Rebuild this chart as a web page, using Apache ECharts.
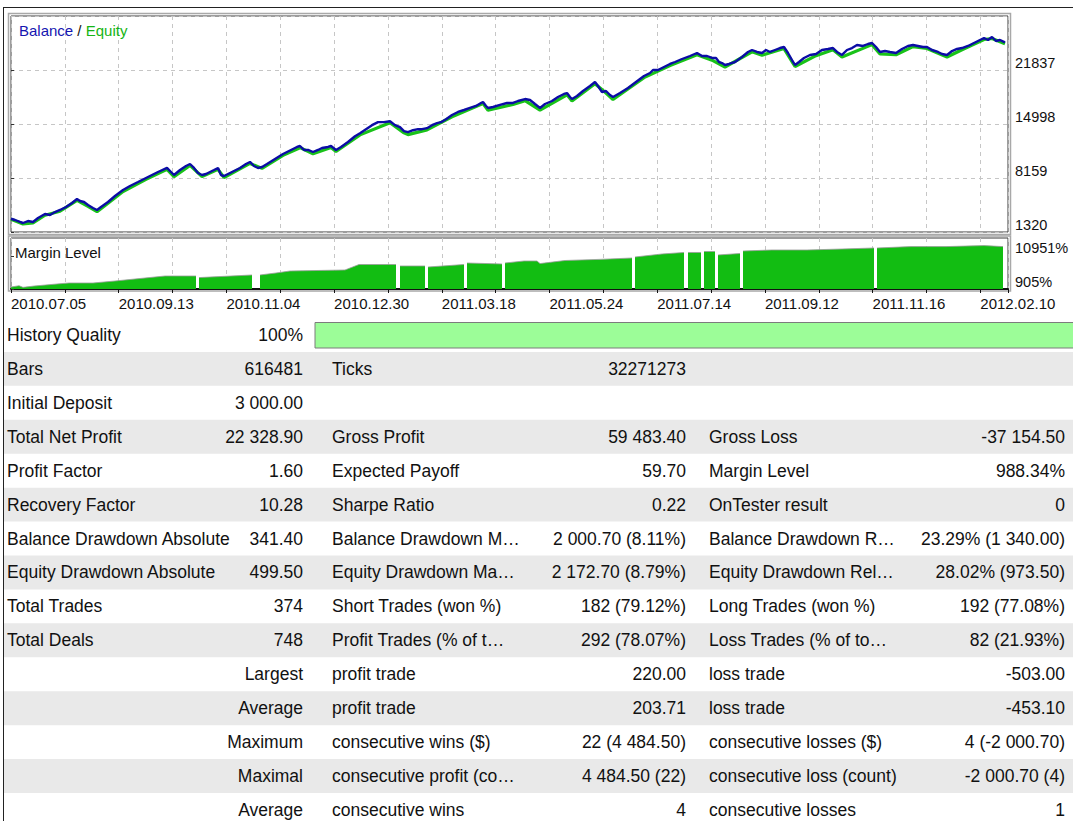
<!DOCTYPE html>
<html>
<head>
<meta charset="utf-8">
<script src="https://cdn.jsdelivr.net/npm/echarts@6/dist/echarts.min.js"></script>
<style>
html, body { margin: 0; padding: 0; background: #fff; }
#main { width: 1073px; height: 821px; }
</style>
</head>
<body>
<div id="main"></div>
<script>
// x runs in tester steps across the chart, 0..997
var dateLabels = ['2010.07.05', '2010.09.13', '2010.11.04', '2010.12.30', '2011.03.18',
    '2011.05.24', '2011.07.14', '2011.09.12', '2011.11.16', '2012.02.10'];

var balancePts = [
    [0, 3000], [4, 2840], [9, 2590], [12, 2460], [17, 2710], [22, 2590], [27, 3090], [34, 3600],
    [39, 3470], [44, 3850], [49, 4110], [55, 4490], [61, 4990], [66, 5500], [69, 5250], [73, 5120],
    [77, 4740], [82, 4360], [86, 4110], [90, 4490], [97, 5120], [104, 5880], [112, 6640], [119, 7150],
    [127, 7650], [135, 8160], [141, 8540], [147, 8920], [156, 9430], [160, 8920], [163, 8540], [169, 9170],
    [175, 9680], [179, 9930], [183, 9430], [187, 8790], [191, 8540], [195, 8670], [199, 8920], [203, 9170],
    [207, 9430], [210, 8540], [213, 8410], [217, 8670], [223, 9050], [229, 9430], [235, 9930], [239, 10190],
    [243, 9680], [247, 9430], [251, 9550], [256, 9930], [264, 10570], [272, 11200], [280, 11710], [286, 12090],
    [289, 12210], [293, 11710], [297, 11710], [302, 11450], [307, 11710], [311, 11960], [317, 12090], [320, 12210],
    [325, 11710], [330, 12090], [337, 12720], [344, 13450], [349, 13830], [355, 14340], [361, 14850], [367, 15230],
    [373, 15230], [379, 15350], [384, 14850], [389, 14590], [393, 14090], [397, 13960], [402, 14210], [407, 14340],
    [411, 14340], [416, 14470], [421, 14850], [426, 15100], [430, 15230], [435, 15610], [441, 16140], [447, 16520],
    [453, 16770], [459, 17030], [465, 17280], [470, 17660], [472, 17790], [475, 17280], [477, 17030], [482, 17150],
    [489, 17410], [496, 17660], [502, 17660], [507, 17910], [514, 18160], [519, 18040], [524, 17530], [529, 17030],
    [534, 17530], [541, 17910], [547, 18420], [553, 18800], [556, 18920], [559, 18420], [561, 18160], [566, 18540],
    [572, 19180], [579, 19810], [584, 20320], [587, 19810], [591, 19050], [595, 19180], [599, 18670], [602, 18420],
    [609, 18920], [617, 19560], [625, 20320], [633, 21080], [639, 21460], [642, 21840], [647, 21840], [653, 22220],
    [659, 22600], [664, 22850], [671, 23230], [679, 23610], [686, 23990], [691, 23610], [696, 23610], [701, 23360],
    [705, 23360], [708, 22850], [711, 22720], [714, 22470], [718, 22600], [724, 22850], [731, 23480], [737, 24120],
    [741, 24370], [746, 24120], [751, 23990], [755, 24370], [759, 24120], [764, 24370], [769, 24620], [773, 24750],
    [777, 23990], [781, 23100], [784, 22470], [788, 22850], [793, 23360], [799, 23740], [805, 23860], [811, 24370],
    [817, 24500], [822, 24620], [826, 24120], [831, 23740], [836, 24370], [841, 24620], [846, 25000], [852, 24880],
    [857, 25130], [861, 25260], [865, 24750], [869, 24120], [874, 24240], [879, 24120], [885, 23990], [891, 24500],
    [897, 24880], [902, 25000], [907, 24880], [912, 24750], [916, 24750], [921, 24370], [927, 24120], [931, 23860],
    [936, 23740], [941, 24240], [946, 24500], [951, 24620], [957, 24880], [963, 25260], [969, 25640], [973, 25890],
    [977, 25640], [981, 26020], [985, 25510], [989, 25640], [994, 25330]
];

var equityPts = [
    [0, 2930], [12, 2330], [22, 2470], [34, 3450], [49, 3950], [66, 5330], [77, 4580], [86, 3900],
    [97, 4950], [112, 6450], [135, 7980], [156, 9250], [163, 8330], [179, 9750], [191, 8330], [207, 9250],
    [213, 8220], [239, 10000], [251, 9380], [272, 11020], [289, 12000], [302, 11230], [320, 12020], [325, 11520],
    [349, 13620], [379, 15150], [393, 13880], [397, 13650], [416, 14250], [441, 15920], [472, 17580], [477, 16750],
    [502, 17460], [514, 17960], [529, 16750], [556, 18700], [561, 17920], [584, 20100], [595, 18920], [602, 18100],
    [633, 20870], [659, 22400], [686, 23780], [701, 23080], [714, 22200], [741, 24150], [751, 23720], [773, 24550],
    [784, 22280], [805, 23650], [822, 24400], [831, 23480], [861, 25050], [869, 23870], [885, 23770], [902, 24800],
    [916, 24560], [936, 23480], [951, 24400], [973, 25700], [981, 25830], [994, 25150]
];

// margin level, %, null where no position was open
var marginPts = [
    [0, 1500], [8, 1900], [12, 1400], [23, 1800], [46, 2430], [58, 2730], [82, 2730], [104, 3340],
    [134, 4250], [154, 4860], [185, 4860], [186, null], [188, 4380], [241, 5170], [247, null], [249, 5170],
    [265, 5780], [279, 6380], [334, 6690], [348, 8360], [385, 8360], [387, null], [389, 7910], [414, 7910],
    [415, null], [417, 7600], [453, 8360], [454, null], [456, 8820], [491, 8520], [492, null], [494, 8820],
    [513, 9430], [526, 9430], [529, 8640], [554, 9580], [588, 9920], [621, 10340], [622, null], [624, 10650],
    [651, 11560], [673, 12020], [675, null], [677, 12020], [690, 12020], [691, null], [693, 12320], [704, 12320],
    [705, null], [707, 11260], [729, 11710], [730, null], [732, 12470], [761, 12780], [796, 12780], [831, 13080],
    [863, 13390], [864, null], [866, 13390], [900, 13810], [935, 13810], [973, 14120], [992, 13810]
];

// report table: label / value pairs for the three columns
var col1Labels = ['History Quality', 'Bars', 'Initial Deposit', 'Total Net Profit', 'Profit Factor', 'Recovery Factor',
    'Balance Drawdown Absolute', 'Equity Drawdown Absolute', 'Total Trades', 'Total Deals', '', '', '', '', ''];
var col1Values = ['100%', '616481', '3 000.00', '22 328.90', '1.60', '10.28', '341.40', '499.50', '374', '748',
    'Largest', 'Average', 'Maximum', 'Maximal', 'Average'];
var col2Labels = ['', 'Ticks', '', 'Gross Profit', 'Expected Payoff', 'Sharpe Ratio', 'Balance Drawdown M\u2026',
    'Equity Drawdown Ma\u2026', 'Short Trades (won %)', 'Profit Trades (% of t\u2026', 'profit trade', 'profit trade',
    'consecutive wins ($)', 'consecutive profit (co\u2026', 'consecutive wins'];
var col2Values = ['', '32271273', '', '59 483.40', '59.70', '0.22', '2 000.70 (8.11%)', '2 172.70 (8.79%)',
    '182 (79.12%)', '292 (78.07%)', '220.00', '203.71', '22 (4 484.50)', '4 484.50 (22)', '4'];
var col3Labels = ['', '', '', 'Gross Loss', 'Margin Level', 'OnTester result', 'Balance Drawdown R\u2026',
    'Equity Drawdown Rel\u2026', 'Long Trades (won %)', 'Loss Trades (% of to\u2026', 'loss trade', 'loss trade',
    'consecutive losses ($)', 'consecutive loss (count)', 'consecutive losses'];
var col3Values = ['', '', '', '-37 154.50', '988.34%', '0', '23.29% (1 340.00)', '28.02% (973.50)',
    '192 (77.08%)', '82 (21.93%)', '-503.00', '-453.10', '4 (-2 000.70)', '-2 000.70 (4)', '1'];

var STEP = 53.85;
var FONT = 'Liberation Sans, Arial, sans-serif';
var gridDash = { type: [4, 4], color: '#c6c6c6', width: 1 };

function tableGraphics() {
    var els = [];
    var rowH = 33.93, top0 = 318;
    for (var i = 0; i < col1Labels.length; i++) {
        var y0 = top0 + i * rowH;
        var cy = y0 + rowH / 2;
        if (i % 2 === 1) {
            els.push({ type: 'rect', shape: { x: 4, y: y0, width: 1069, height: rowH }, style: { fill: '#e9e9e9' }, z: 1 });
        }
        var cells = [
            [col1Labels[i], 7, 'left'], [col1Values[i], 303, 'right'],
            [col2Labels[i], 332, 'left'], [col2Values[i], 686, 'right'],
            [col3Labels[i], 709, 'left'], [col3Values[i], 1065, 'right']
        ];
        cells.forEach(function (c) {
            if (!c[0]) return;
            els.push({
                type: 'text', x: c[1], y: cy, z: 5,
                style: { text: c[0], fill: '#111', fontSize: 17.5, fontFamily: FONT, align: c[2], verticalAlign: 'middle' }
            });
        });
    }
    // history quality bar
    els.push({ type: 'rect', shape: { x: 315, y: 322.5, width: 762, height: 25.5 },
        style: { fill: '#9cfd98', stroke: '#7c7c7c', lineWidth: 1 }, z: 3 });
    return els;
}

var chart = echarts.init(document.getElementById('main'), null, { renderer: 'svg' });

var option = {
    animation: false,
    backgroundColor: '#fff',
    title: {
        text: '{b|Balance} / {e|Equity}',
        left: 14, top: 18,
        textStyle: {
            fontFamily: FONT, fontSize: 15, fontWeight: 'normal', color: '#111',
            rich: {
                b: { color: '#1515b0', fontFamily: FONT, fontSize: 15 },
                e: { color: '#15b515', fontFamily: FONT, fontSize: 15 }
            }
        }
    },
    grid: [
        { left: 11, top: 16, width: 997, height: 216, show: true, borderColor: '#3a3a3a', borderWidth: 1 },
        { left: 11, top: 238, width: 997, height: 51, show: true, borderColor: '#3a3a3a', borderWidth: 1 }
    ],
    xAxis: [
        {
            type: 'value', gridIndex: 0, min: 0, max: 997, interval: STEP,
            axisLine: { show: false }, axisTick: { show: false }, axisLabel: { show: false },
            splitLine: { show: true, lineStyle: gridDash }
        },
        {
            type: 'value', gridIndex: 1, min: 0, max: 997, interval: STEP,
            axisLine: { show: true, onZero: false, lineStyle: { color: '#111', width: 2 } },
            axisTick: { show: true, length: 4, lineStyle: { color: '#111' } },
            axisLabel: {
                show: true, align: 'left', margin: 7, fontSize: 15, fontFamily: FONT, color: '#111',
                formatter: function (v) {
                    var k = Math.round(v / STEP);
                    if (Math.abs(v - k * STEP) > 1 || k % 2 !== 0) return '';
                    return dateLabels[k / 2] || '';
                }
            },
            splitLine: { show: true, lineStyle: gridDash }
        }
    ],
    yAxis: [
        {
            type: 'value', gridIndex: 0, position: 'right', min: 1320, max: 28676, interval: 6839,
            axisLine: { show: false },
            axisTick: { show: true, length: 3, lineStyle: { color: '#333' } },
            axisLabel: { showMaxLabel: false, margin: 7, verticalAlign: 'bottom', fontSize: 14.5, fontFamily: FONT, color: '#111',
                formatter: function (v) { return String(Math.round(v)); } },
            splitLine: { show: true, lineStyle: gridDash }
        },
        {
            type: 'value', gridIndex: 1, position: 'right', min: 905, max: 16430, interval: 10046,
            axisLine: { show: false },
            axisTick: { show: true, length: 3, lineStyle: { color: '#333' } },
            axisLabel: { showMaxLabel: false, margin: 7, verticalAlign: 'bottom', fontSize: 14.5, fontFamily: FONT, color: '#111',
                formatter: function (v) { return Math.round(v) + '%'; } },
            splitLine: { show: false }
        }
    ],
    series: [
        {
            name: 'Equity', type: 'line', xAxisIndex: 0, yAxisIndex: 0, data: equityPts,
            symbol: 'none', z: 2, lineStyle: { color: '#19c219', width: 3.2 }
        },
        {
            name: 'Balance', type: 'line', xAxisIndex: 0, yAxisIndex: 0, data: balancePts,
            symbol: 'none', z: 3, lineStyle: { color: '#0c0ca6', width: 2.4 }
        },
        {
            name: 'Margin Level', type: 'line', xAxisIndex: 1, yAxisIndex: 1, data: marginPts,
            symbol: 'none', connectNulls: false, z: 2,
            lineStyle: { color: '#9a9a9a', width: 0.8 },
            areaStyle: { color: '#12bd12', opacity: 1, origin: 'start' }
        }
    ],
    graphic: [
        // outer frame
        { type: 'line', shape: { x1: 3, y1: 7.5, x2: 1073, y2: 7.5 }, style: { stroke: '#222', lineWidth: 1 } },
        { type: 'line', shape: { x1: 3.5, y1: 7, x2: 3.5, y2: 821 }, style: { stroke: '#222', lineWidth: 1 } },
        // sunken bevel around the panels
        { type: 'rect', shape: { x: 8.5, y: 13.5, width: 1002, height: 221 }, style: { fill: 'none', stroke: '#a8a8a8', lineWidth: 1.5 } },
        { type: 'rect', shape: { x: 8.5, y: 236, width: 1002, height: 55 }, style: { fill: 'none', stroke: '#a8a8a8', lineWidth: 1.5 } },
        {
            type: 'text', x: 15, y: 252, z: 10,
            style: { text: 'Margin Level', fill: '#111', fontSize: 15, fontFamily: FONT, verticalAlign: 'middle' }
        }
    ].concat(tableGraphics())
};

chart.setOption(option);
</script>
</body>
</html>
